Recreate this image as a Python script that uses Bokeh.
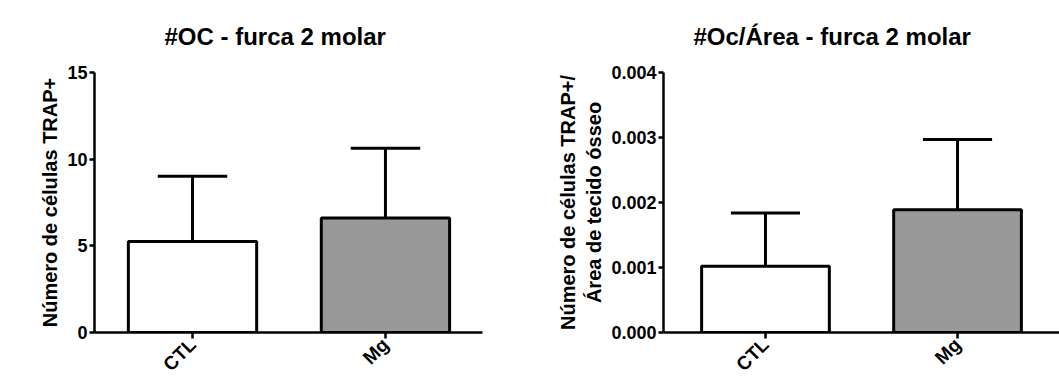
from bokeh.plotting import figure
from bokeh.layouts import row
from bokeh.models import Range1d, FixedTicker, NumeralTickFormatter, ColumnDataSource
from bokeh.embed import file_html
from bokeh.resources import INLINE
import math

categories = ["CTL", "Mg"]
bar_colors = ["#ffffff", "#999999"]

oc_mean = [5.25, 6.6]
oc_sd = [3.77, 4.03]

area_mean = [0.00102, 0.00189]
area_sd = [0.00082, 0.00108]

FONT = "Liberation Sans"


def make_panel(title, ylabel, means, sds, ymax, yticks, width, border_left, border_right,
               x_start, x_end, title_offset, fmt=None):
    xs = [i + 1 for i in range(len(categories))]
    p = figure(width=width, height=385, output_backend="svg", toolbar_location=None,
               x_range=Range1d(x_start, x_end), y_range=Range1d(0, ymax),
               min_border_left=border_left, min_border_right=border_right,
               min_border_top=72, min_border_bottom=53)
    p.title.text = title
    p.title.text_font = FONT
    p.title.text_font_size = "24px"
    p.title.text_font_style = "bold"
    p.title.text_color = "black"
    p.title.align = "left"
    p.title.vertical_align = "top"
    p.title.offset = title_offset
    p.title.standoff = 42
    p.outline_line_color = None
    p.grid.visible = False
    p.background_fill_color = "white"
    p.border_fill_color = "white"

    src = ColumnDataSource(dict(x=xs, top=means, color=bar_colors,
                                up=[m + s for m, s in zip(means, sds)],
                                cl=[x - 0.18 for x in xs], cr=[x + 0.18 for x in xs]))
    p.segment(x0="x", y0="top", x1="x", y1="up", source=src, line_color="black", line_width=3)
    p.segment(x0="cl", y0="up", x1="cr", y1="up", source=src, line_color="black", line_width=3)
    p.vbar(x="x", top="top", bottom=0, width=0.665, source=src, fill_color="color",
           line_color="black", line_width=3)

    xa = p.xaxis[0]
    xa.ticker = FixedTicker(ticks=xs)
    xa.major_label_overrides = {x: c for x, c in zip(xs, categories)}
    xa.major_label_orientation = math.pi / 4
    xa.minor_tick_line_color = None
    xa.major_tick_in = 0
    xa.major_tick_out = 6
    xa.axis_line_width = 2.5
    xa.major_tick_line_width = 2.5
    xa.major_label_text_font = FONT
    xa.major_label_text_font_size = "19px"
    xa.major_label_text_font_style = "bold"
    xa.major_label_text_color = "black"
    xa.major_label_standoff = 3

    ya = p.yaxis[0]
    ya.ticker = FixedTicker(ticks=yticks)
    if fmt:
        ya.formatter = NumeralTickFormatter(format=fmt)
    ya.minor_tick_line_color = None
    ya.major_tick_in = 0
    ya.major_tick_out = 5
    ya.axis_line_width = 2.5
    ya.major_tick_line_width = 2.5
    ya.major_label_text_font = FONT
    ya.major_label_text_font_size = "18px"
    ya.major_label_text_font_style = "bold"
    ya.major_label_text_color = "black"
    ya.major_label_standoff = 2
    ya.axis_label = ylabel
    ya.axis_label_text_font = FONT
    ya.axis_label_text_font_size = "20px"
    ya.axis_label_text_font_style = "bold"
    ya.axis_label_text_color = "black"
    ya.axis_label_standoff = 3
    return p


p1 = make_panel("#OC - furca 2 molar", "Número de células TRAP+", oc_mean, oc_sd, 15,
                [0, 5, 10, 15], 530, 94, 48, 0.492, 2.503, 70)
p2 = make_panel("#Oc/Área - furca 2 molar", "Número de células TRAP+/\nÁrea de tecido ósseo",
                area_mean, area_sd, 0.004, [0, 0.001, 0.002, 0.003, 0.004], 529, 133, 0,
                0.469, 2.531, 30, fmt="0.000")

layout = row(p1, p2)
open("out.html", "w").write(file_html(layout, INLINE))
